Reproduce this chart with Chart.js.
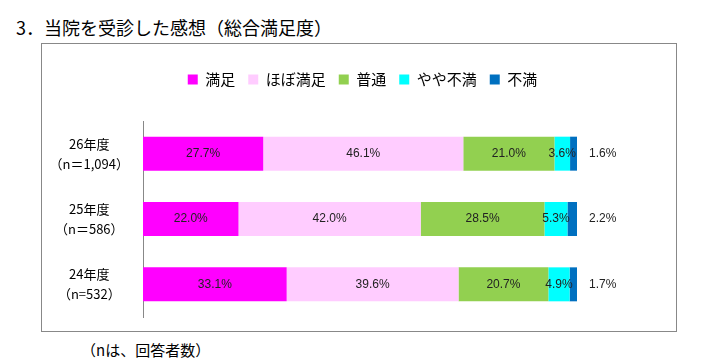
<!DOCTYPE html>
<html>
<head>
<meta charset="utf-8">
<script src="https://cdn.jsdelivr.net/npm/chart.js@4/dist/chart.umd.min.js"></script>
<style>
  body { margin: 0; background: #fff; width: 713px; height: 363px; position: relative; overflow: hidden; font-family: "Noto Sans CJK JP", sans-serif; }
  #title { position: absolute; left: 16px; top: 15px; font-size: 18px; line-height: 24px; color: #000; white-space: nowrap; }
  #frame { position: absolute; left: 41px; top: 43px; width: 634px; height: 287px; border: 1px solid #888; }
  #chart { position: absolute; left: 42px; top: 44px; }
  #note { position: absolute; left: 81px; top: 339px; font-size: 15px; line-height: 22px; color: #000; white-space: nowrap; }
</style>
</head>
<body>
<div id="title">3．当院を受診した感想（総合満足度）</div>
<div id="frame"></div>
<canvas id="chart" width="634" height="287"></canvas>
<div id="note">（nは、回答者数）</div>
<script>
// 年度ごとのラベル（上から26, 25, 24年度）
const years = [
    ['26年度', '（n＝1,094）'],
    ['25年度', '（n＝586）'],
    ['24年度', '（n=532）']
];
const seriesNames = ['満足', 'ほぼ満足', '普通', 'やや不満', '不満'];
const manzoku = [27.7, 22.0, 33.1];
const hobo = [46.1, 42.0, 39.6];
const futsu = [21.0, 28.5, 20.7];
const yaya = [3.6, 5.3, 4.9];
const fuman = [1.6, 2.2, 1.7];
const colors = ['#FF00FF', '#FFCCFF', '#92D050', '#00FFFF', '#0070C0'];

const seriesData = [manzoku, hobo, futsu, yaya, fuman];

// legend: extra space below, and shift to the right
const legendSpace = {
    id: 'legendSpace',
    beforeInit(chart) {
        const origFit = chart.legend.fit;
        chart.legend.fit = function () {
            origFit.bind(chart.legend)();
            this.height += 24;
        };
    },
    afterLayout(chart) {
        chart.legend.left += 106;
    }
};

// percentage labels
const barLabels = {
    id: 'barLabels',
    afterDatasetsDraw(chart) {
        const ctx = chart.ctx;
        ctx.save();
        ctx.font = '12px "Liberation Sans", Arial, sans-serif';
        ctx.fillStyle = '#222';
        ctx.textBaseline = 'middle';
        chart.data.datasets.forEach((ds, i) => {
            const meta = chart.getDatasetMeta(i);
            meta.data.forEach((bar, j) => {
                const txt = ds.data[j].toFixed(1) + '%';
                if (i === chart.data.datasets.length - 1) {
                    ctx.textAlign = 'left';
                    ctx.fillText(txt, bar.x + 12, bar.y);
                } else {
                    ctx.textAlign = 'center';
                    ctx.fillText(txt, (bar.x + bar.base) / 2, bar.y);
                }
            });
        });
        ctx.restore();
    }
};

new Chart(document.getElementById('chart'), {
    type: 'bar',
    data: {
        labels: years,
        datasets: seriesNames.map((name, i) => ({
            label: name,
            data: seriesData[i],
            backgroundColor: colors[i],
            borderWidth: 0,
            categoryPercentage: 1,
            barPercentage: 0.52
        }))
    },
    options: {
        indexAxis: 'y',
        responsive: false,
        animation: false,
        layout: { padding: { top: 15, right: 99, bottom: 14, left: 0 } },
        plugins: {
            legend: {
                position: 'top',
                labels: {
                    boxWidth: 10,
                    boxHeight: 10,
                    padding: 13,
                    color: '#000',
                    font: { size: 15, family: '"Noto Sans CJK JP", sans-serif' }
                }
            },
            tooltip: { enabled: false }
        },
        scales: {
            x: {
                stacked: true,
                min: 0,
                max: 100,
                display: false
            },
            y: {
                stacked: true,
                grid: { display: false, drawTicks: false },
                border: { display: true, color: '#888', width: 1 },
                afterFit(scale) {
                    scale.width = 101;
                    scale.paddingTop = 0;
                    scale.paddingBottom = 0;
                },
                ticks: {
                    crossAlign: 'center',
                    padding: 14,
                    color: '#000',
                    font: { size: 13, family: '"Noto Sans CJK JP", sans-serif', lineHeight: 1.55 }
                }
            }
        }
    },
    plugins: [legendSpace, barLabels]
});
</script>
</body>
</html>
